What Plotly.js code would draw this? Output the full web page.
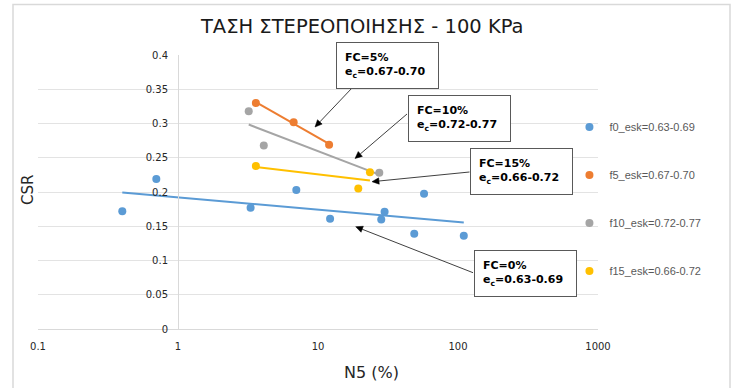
<!DOCTYPE html>
<html><head><meta charset="utf-8">
<script src="https://cdn.plot.ly/plotly-3.0.1.min.js"></script>
<style>html,body{margin:0;padding:0;background:#fff}#chart{width:736px;height:388px}</style>
</head><body><div id="chart"></div>
<script>
// CSR against N5 (%) for each fines content, consolidation stress 100 kPa
const seriesNames = ['f0_esk=0.63-0.69', 'f5_esk=0.67-0.70', 'f10_esk=0.72-0.77', 'f15_esk=0.66-0.72'];
const seriesColors = ['#5B9BD5', '#ED7D31', '#A5A5A5', '#FFC000'];

const f0N5  = [0.40, 0.70, 3.3, 7.0, 12.2, 28.3, 29.9, 48.7, 57.2, 110];
const f0CSR = [0.172, 0.219, 0.177, 0.203, 0.161, 0.160, 0.171, 0.139, 0.1975, 0.136];
const f5N5  = [3.6, 6.7, 12.0];
const f5CSR = [0.330, 0.302, 0.269];
const f10N5  = [3.2, 4.1, 27.4];
const f10CSR = [0.318, 0.268, 0.228];
const f15N5  = [3.6, 23.5, 19.4];
const f15CSR = [0.238, 0.229, 0.205];

const xTickVals = [0.1, 1, 10, 100, 1000];
const xTickText = ['0.1', '1', '10', '100', '1000'];
const yTickVals = [0, 0.05, 0.1, 0.15, 0.2, 0.25, 0.3, 0.35, 0.4];

const boxLabels = [
  'FC=5%<br>e<sub>c</sub>=0.67-0.70',
  'FC=10%<br>e<sub>c</sub>=0.72-0.77',
  'FC=15%<br>e<sub>c</sub>=0.66-0.72',
  'FC=0%<br>e<sub>c</sub>=0.63-0.69'
];

const xs = [f0N5, f5N5, f10N5, f15N5];
const ys = [f0CSR, f5CSR, f10CSR, f15CSR];

// least-squares logarithmic trend: y = a + b*log10(x)
function logTrend(x, y) {
  const u = x.map(v => Math.log10(v));
  const n = u.length;
  const mu = u.reduce((s, v) => s + v, 0) / n;
  const my = y.reduce((s, v) => s + v, 0) / n;
  let sxy = 0, sxx = 0;
  for (let i = 0; i < n; i++) { sxy += (u[i] - mu) * (y[i] - my); sxx += (u[i] - mu) ** 2; }
  const b = sxy / sxx, a = my - b * mu;
  const lo = Math.min(...x), hi = Math.max(...x);
  return { x: [lo, hi], y: [a + b * Math.log10(lo), a + b * Math.log10(hi)] };
}

const traces = [];
xs.forEach((x, i) => {
  const t = logTrend(x, ys[i]);
  traces.push({
    x: t.x, y: t.y, mode: 'lines', type: 'scatter',
    line: { color: seriesColors[i], width: 2 },
    showlegend: false, hoverinfo: 'skip', legendgroup: 'g' + i
  });
});
xs.forEach((x, i) => {
  traces.push({
    x: x, y: ys[i], mode: 'markers', type: 'scatter', name: seriesNames[i],
    marker: { color: seriesColors[i], size: 8 },
    legendgroup: 'g' + i
  });
});

// plot area in pixels (matches the margins below)
const PLOT = { left: 38, width: 560, bottom: 329, height: 274 };
const toPaperX = px => (px - PLOT.left) / PLOT.width;
const toPaperY = py => (PLOT.bottom - py) / PLOT.height;

// callout boxes (centre, px) and their pointer lines (tail on box edge -> head)
const boxCentres = [[387.5, 65.5], [459, 118], [521, 171], [525, 273]];
const pointerTails = [[352, 88], [407, 114], [469.5, 172], [473, 272.7]];
const pointerHeads = [[315, 127], [355, 158.5], [372, 181.7], [355.7, 226.7]];

const annotations = boxLabels.map((txt, i) => ({
  x: toPaperX(boxCentres[i][0]), y: toPaperY(boxCentres[i][1]), xref: 'paper', yref: 'paper',
  text: txt, showarrow: false, align: 'left', width: 85, borderpad: 8,
  xanchor: 'center', yanchor: 'middle',
  bgcolor: '#ffffff', bordercolor: '#595959', borderwidth: 1,
  font: { family: 'DejaVu Sans', size: 11, color: '#000000', weight: 'bold' }
}));
annotations.push({
  text: 'N5 (%)', xref: 'paper', yref: 'paper', x: 0.596, y: -0.157,
  xanchor: 'center', yanchor: 'middle', showarrow: false,
  font: { family: 'DejaVu Sans', size: 16, color: '#262626' }
});
annotations.push({
  text: 'CSR', xref: 'paper', yref: 'paper', x: -0.018, y: 0.507, textangle: -90,
  xanchor: 'center', yanchor: 'middle', showarrow: false,
  font: { family: 'DejaVu Sans', size: 15, color: '#262626' }
});

// chart frame, then pointer lines with filled triangular heads
const shapes = [{
  type: 'rect', xref: 'paper', yref: 'paper',
  x0: toPaperX(13), x1: toPaperX(730), y0: toPaperY(400), y1: toPaperY(4.5),
  line: { color: '#d9d9d9', width: 1.5 }, fillcolor: 'rgba(0,0,0,0)', layer: 'below'
}];
const HEAD_LEN = 7, HEAD_HALF = 3.2;
pointerTails.forEach((t, i) => {
  const h = pointerHeads[i];
  const dx = h[0] - t[0], dy = h[1] - t[1];
  const len = Math.hypot(dx, dy), ux = dx / len, uy = dy / len;
  const bx = h[0] - ux * HEAD_LEN, by = h[1] - uy * HEAD_LEN;
  shapes.push({
    type: 'line', xref: 'paper', yref: 'paper',
    x0: toPaperX(t[0]), y0: toPaperY(t[1]), x1: toPaperX(bx), y1: toPaperY(by),
    line: { color: '#404040', width: 1 }
  });
  const p1 = [bx - uy * HEAD_HALF, by + ux * HEAD_HALF];
  const p2 = [bx + uy * HEAD_HALF, by - ux * HEAD_HALF];
  shapes.push({
    type: 'path', xref: 'paper', yref: 'paper',
    path: `M ${toPaperX(h[0])} ${toPaperY(h[1])} L ${toPaperX(p1[0])} ${toPaperY(p1[1])} L ${toPaperX(p2[0])} ${toPaperY(p2[1])} Z`,
    fillcolor: '#000000', line: { color: '#000000', width: 0.5 }
  });
});

const layout = {
  width: 736, height: 388,
  margin: { l: 38, r: 138, t: 55, b: 59 },
  paper_bgcolor: '#ffffff', plot_bgcolor: '#ffffff',
  title: {
    text: 'ΤΑΣΗ ΣΤΕΡΕΟΠΟΙΗΣΗΣ - 100 KPa', xref: 'paper', x: 0.579, xanchor: 'center',
    yref: 'container', y: 0.933, yanchor: 'middle',
    font: { family: 'DejaVu Sans', size: 19.5, color: '#1a1a1a' }
  },
  xaxis: {
    type: 'log', range: [-1, 3], tickvals: xTickVals, ticktext: xTickText,
    showgrid: false, zeroline: false, showline: true, linecolor: '#d9d9d9', linewidth: 1,
    ticks: '', ticklabelstandoff: 8,
    tickfont: { family: 'DejaVu Sans', size: 10, color: '#262626' }
  },
  yaxis: {
    range: [0, 0.4], tickvals: yTickVals, anchor: 'free', position: 0.25,
    showgrid: true, gridcolor: '#e3e3e3', gridwidth: 1, zeroline: false,
    showline: true, linecolor: '#d9d9d9', linewidth: 1, ticks: '', ticklabelstandoff: 8,
    tickfont: { family: 'DejaVu Sans', size: 10, color: '#262626' }
  },
  showlegend: true,
  legend: {
    x: 0.949, y: 0.79, xanchor: 'left', yanchor: 'top', bgcolor: 'rgba(0,0,0,0)',
    traceorder: 'grouped', tracegroupgap: 29, itemwidth: 30,
    font: { family: 'Liberation Sans', size: 11, color: '#595959' }
  },
  annotations: annotations,
  shapes: shapes
};

Plotly.newPlot('chart', traces, layout, { displayModeBar: false, staticPlot: true });
</script>
</body></html>
